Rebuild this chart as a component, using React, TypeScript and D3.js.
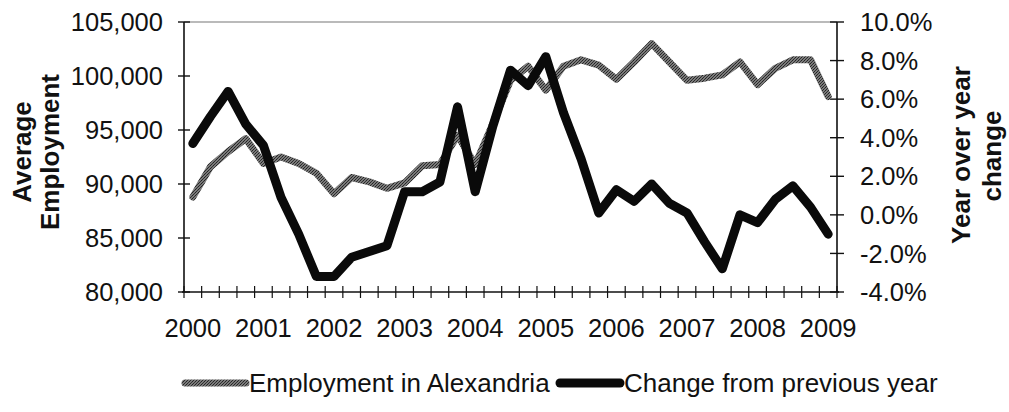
import React from "react";
import * as d3 from "d3";

const years = ["2000", "2001", "2002", "2003", "2004", "2005", "2006", "2007", "2008", "2009"];
const quarters = ["Q1", "Q2", "Q3", "Q4"];
const categories: string[] = years
  .flatMap((y) => quarters.map((q) => `${y} ${q}`))
  .slice(0, 37);

const employment = [
  88800, 91600, 93000, 94200, 91900, 92500, 91900, 91000, 89100, 90600, 90200, 89600,
  90100, 91700, 91800, 94500, 91800, 95600, 99600, 100900, 98700, 100900, 101500, 101000,
  99700, 101300, 103000, 101300, 99600, 99800, 100100, 101300, 99200, 100700, 101500,
  101500, 98100,
];
const change = [
  3.7, 5.1, 6.4, 4.7, 3.6, 0.9, -1.0, -3.2, -3.2, -2.2, -1.9, -1.6, 1.2, 1.2, 1.7, 5.6,
  1.2, 4.6, 7.5, 6.7, 8.2, 5.3, 2.9, 0.1, 1.3, 0.7, 1.6, 0.6, 0.1, -1.4, -2.8, 0.0, -0.4,
  0.8, 1.5, 0.4, -1.0,
];
const leftTicks = [80000, 85000, 90000, 95000, 100000, 105000];
const rightTicks = [-4, -2, 0, 2, 4, 6, 8, 10];
const seriesNames = ["Employment in Alexandria", "Change from previous year"];

const FONT = "'Liberation Sans', Arial, sans-serif";

export default function App() {
  const W = 1009, H = 412;
  const L = 184, R = 837, T = 22, B = 292;
  const x = d3.scaleBand<string>().domain(categories).range([L, R]);
  const cx = (c: string) => (x(c) as number) + x.bandwidth() / 2;
  const yL = d3.scaleLinear().domain([80000, 105000]).range([B, T]);
  const yR = d3.scaleLinear().domain([-4, 10]).range([B, T]);
  const fmtL = d3.format(",");
  const fmtR = (v: number) => v.toFixed(1) + "%";

  const lineEmp = d3.line<number>().x((_, i) => cx(categories[i])).y((d) => yL(d));
  const lineChg = d3.line<number>().x((_, i) => cx(categories[i])).y((d) => yR(d));

  const boundaries = d3.range(categories.length + 1).map((i) => L + i * x.step());

  return (
    <svg
      width={W}
      height={H}
      style={{ position: "absolute", left: 0, top: 0, background: "#fff" }}
      fontFamily={FONT}
    >
      <defs>
        <pattern id="dither" width="3" height="3" patternUnits="userSpaceOnUse">
          <rect width="3" height="3" fill="#7a7a7a" />
          <rect x="0" y="0" width="1" height="1" fill="#222" />
          <rect x="2" y="1" width="1" height="1" fill="#333" />
          <rect x="1" y="2" width="1" height="1" fill="#2a2a2a" />
        </pattern>
      </defs>
      <rect width={W} height={H} fill="#fff" />
      {/* frame */}
      <line x1={L} x2={R} y1={T} y2={T} stroke="#777" strokeWidth={1.2} />
      <line x1={L} x2={L} y1={T} y2={B} stroke="#111" strokeWidth={1.6} />
      <line x1={R} x2={R} y1={T} y2={B} stroke="#111" strokeWidth={1.6} />
      <line x1={L - 2} x2={R + 2} y1={B} y2={B} stroke="#111" strokeWidth={1.6} />

      {/* left ticks */}
      {leftTicks.map((t) => (
        <g key={"l" + t}>
          <line x1={L - 6} x2={L + 6} y1={yL(t)} y2={yL(t)} stroke="#111" strokeWidth={1.4} />
          <text x={163} y={yL(t)} dy="0.36em" textAnchor="end" fontSize={25.5} fill="#111">
            {fmtL(t)}
          </text>
        </g>
      ))}
      {/* right ticks */}
      {rightTicks.map((t) => (
        <g key={"r" + t}>
          <line x1={R - 7} x2={R + 7} y1={yR(t)} y2={yR(t)} stroke="#111" strokeWidth={1.4} />
          <text x={860} y={yR(t)} dy="0.36em" textAnchor="start" fontSize={25.5} fill="#111">
            {fmtR(t)}
          </text>
        </g>
      ))}
      {/* x ticks */}
      {boundaries.map((bx, i) => (
        <line key={"x" + i} x1={bx} x2={bx} y1={B - 6} y2={B + 6} stroke="#111" strokeWidth={1.2} />
      ))}
      {categories.map((c, i) =>
        i % 4 === 0 ? (
          <text key={"xl" + i} x={cx(c)} y={337} textAnchor="middle" fontSize={25.5} fill="#111">
            {c.slice(0, 4)}
          </text>
        ) : null
      )}

      {/* axis titles */}
      <g fontWeight="bold" fontSize={26} fill="#111">
        <text transform="translate(31,152) rotate(-90)" textAnchor="middle">Average</text>
        <text transform="translate(59,152) rotate(-90)" textAnchor="middle">Employment</text>
        <text transform="translate(970,155) rotate(-90)" textAnchor="middle">Year over year</text>
        <text transform="translate(1001,156) rotate(-90)" textAnchor="middle">change</text>
      </g>

      {/* series */}
      <path d={lineEmp(employment) as string} fill="none" stroke="url(#dither)" strokeWidth={7} strokeLinejoin="round" strokeLinecap="round" />
      <path d={lineChg(change) as string} fill="none" stroke="#0a0a0a" strokeWidth={9} strokeLinejoin="round" strokeLinecap="round" />

      {/* legend */}
      <line x1={185} x2={246} y1={383} y2={383} stroke="url(#dither)" strokeWidth={7} strokeLinecap="round" />
      <text x={249} y={392} fontSize={26} fill="#111">{seriesNames[0]}</text>
      <line x1={560} x2={620} y1={383} y2={383} stroke="#0a0a0a" strokeWidth={9} strokeLinecap="round" />
      <text x={624} y={392} fontSize={26} fill="#111">{seriesNames[1]}</text>
    </svg>
  );
}
